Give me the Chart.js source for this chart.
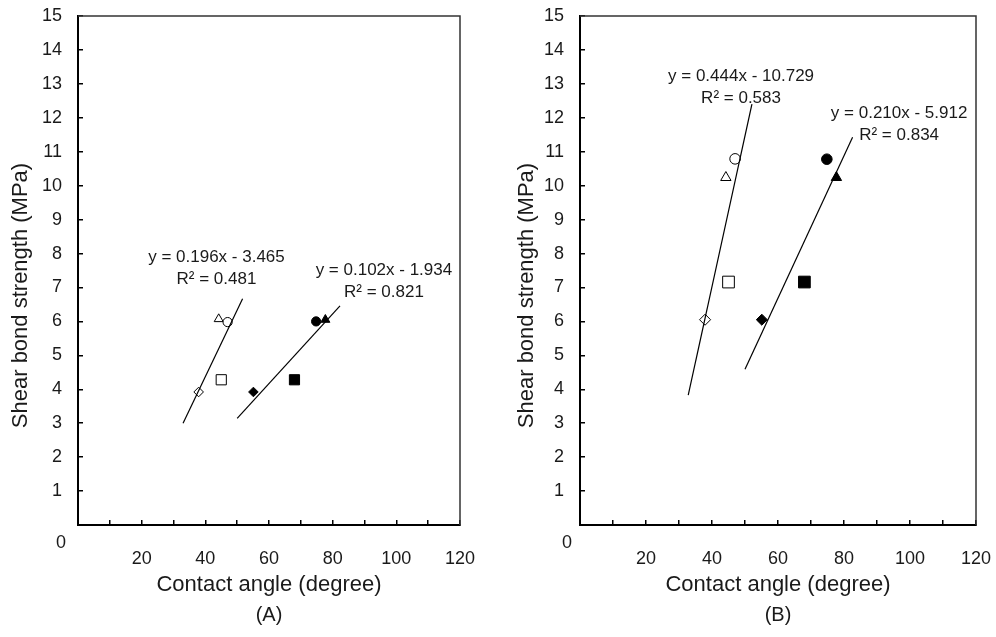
<!DOCTYPE html>
<html>
<head>
<meta charset="utf-8">
<script src="https://cdn.jsdelivr.net/npm/chart.js@4.4.0/dist/chart.umd.min.js"></script>
<style>
  html, body { margin: 0; padding: 0; background: #fff; }
  .panel { position: absolute; top: 0; width: 498px; height: 637px; }
</style>
</head>
<body>
<div class="panel" style="left:0"><canvas id="chartA" width="498" height="637"></canvas></div>
<div class="panel" style="left:498px"><canvas id="chartB" width="498" height="637"></canvas></div>
<script>
// contact angle (degree) - same specimens in both panels
var openAngle   = [37.9, 45.0, 44.2, 47.0];   // diamond, square, triangle, circle
var filledAngle = [55.1, 68.0, 74.8, 77.7];   // diamond, square, circle, triangle
var openMarkers   = ['rectRot', 'rect', 'triangle', 'circle'];
var filledMarkers = ['rectRot', 'rect', 'circle', 'triangle'];

// shear bond strength (MPa)
var openStrengthA   = [3.92, 4.28, 6.07, 5.98];
var filledStrengthA = [3.92, 4.28, 6.00, 6.05];
var openStrengthB   = [6.05, 7.16, 10.24, 10.79];
var filledStrengthB = [6.05, 7.16, 10.78, 10.24];

// trend line ends [x, y]
var trendOpenA   = [[33.0, 3.00], [51.7, 6.67]];
var trendFilledA = [[50.0, 3.14], [82.3, 6.46]];
var trendOpenB   = [[32.8, 3.83], [52.1, 12.40]];
var trendFilledB = [[50.0, 4.59], [82.6, 11.43]];

// regression labels
var eqOpenA   = ['y = 0.196x - 3.465', 'R² = 0.481'];
var eqFilledA = ['y = 0.102x - 1.934', 'R² = 0.821'];
var eqOpenB   = ['y = 0.444x - 10.729', 'R² = 0.583'];
var eqFilledB = ['y = 0.210x - 5.912', 'R² = 0.834'];

var xTicks = [20, 40, 60, 80, 100, 120];

var FONT = "'Liberation Sans', Arial, sans-serif";
var INK = '#1a1a1a';

function toPoints(xs, ys) {
    return xs.map(function (x, i) { return { x: x, y: ys[i] }; });
}
function toLine(ends) {
    return ends.map(function (p) { return { x: p[0], y: p[1] }; });
}
function radii(markers, size) {
    var base = { rectRot: 4.8, rect: 7.2, triangle: 5.2, circle: 4.6 };
    return markers.map(function (m) { return base[m] * size; });
}

// frame, corner "0", rotated y title and regression labels
var extras = {
    id: 'extras',
    afterDatasetsDraw: function (chart, args, opts) {
        var ctx = chart.ctx, a = chart.chartArea;
        var xs = chart.scales.x, ys = chart.scales.y;
        ctx.save();
        ctx.strokeStyle = '#333';
        ctx.lineWidth = 1.5;
        ctx.beginPath();
        ctx.moveTo(a.left, a.top);
        ctx.lineTo(a.right, a.top);
        ctx.lineTo(a.right, a.bottom);
        ctx.stroke();

        ctx.fillStyle = INK;
        ctx.textAlign = 'center';
        ctx.textBaseline = 'middle';
        ctx.font = '18px ' + FONT;
        ctx.fillText('0', a.left - opts.zeroDx, a.bottom + 18);

        ctx.save();
        ctx.translate(opts.titleX, (a.top + a.bottom) / 2 + 25);
        ctx.rotate(-Math.PI / 2);
        ctx.font = '22px ' + FONT;
        ctx.fillText('Shear bond strength (MPa)', 0, 0);
        ctx.restore();

        ctx.font = '17px ' + FONT;
        opts.labels.forEach(function (l) {
            var px = xs.getPixelForValue(l.x);
            ctx.fillText(l.text[0], px, ys.getPixelForValue(l.y));
            ctx.fillText(l.text[1], px, ys.getPixelForValue(l.y) + 22);
        });
        ctx.restore();
    }
};

function makeChart(id, cfg) {
    var ctx = document.getElementById(id);
    if (!ctx) {
        console.error("Canvas element with ID '" + id + "' not found.");
        return;
    }
    return new Chart(ctx, {
        type: 'scatter',
        data: {
            datasets: [
                { data: toLine(cfg.trendOpen), showLine: true, pointRadius: 0, borderColor: '#000', borderWidth: 1.2 },
                { data: toLine(cfg.trendFilled), showLine: true, pointRadius: 0, borderColor: '#000', borderWidth: 1.2 },
                {
                    data: toPoints(openAngle, cfg.open),
                    pointStyle: openMarkers,
                    pointRadius: radii(openMarkers, cfg.size),
                    backgroundColor: '#fff',
                    borderColor: '#000',
                    borderWidth: 1
                },
                {
                    data: toPoints(filledAngle, cfg.filled),
                    pointStyle: filledMarkers,
                    pointRadius: radii(filledMarkers, cfg.size),
                    backgroundColor: '#000',
                    borderColor: '#000',
                    borderWidth: 1
                }
            ]
        },
        options: {
            responsive: false,
            animation: false,
            layout: { padding: { left: 0, right: cfg.padRight, top: 16, bottom: 0 } },
            scales: {
                x: {
                    min: 0, max: 120,
                    afterFit: function (s) { s.height = 78; s.paddingLeft = 0; s.paddingRight = 0; },
                    border: { color: '#000', width: 2 },
                    grid: { drawOnChartArea: false, tickLength: -5, color: '#000', lineWidth: 1.5 },
                    ticks: {
                        stepSize: 10, autoSkip: false, maxRotation: 0, padding: 28,
                        color: INK, font: { family: FONT, size: 18 },
                        callback: function (v) { return xTicks.indexOf(v) >= 0 ? String(v) : ''; }
                    },
                    title: {
                        display: true, text: 'Contact angle (degree)', color: INK,
                        font: { family: FONT, size: 22 }, padding: { top: 0, bottom: 5 }
                    }
                },
                y: {
                    min: 0, max: 15,
                    afterFit: function (s) { s.width = cfg.axisLeft; s.paddingTop = 0; s.paddingBottom = 0; },
                    border: { color: '#000', width: 2 },
                    grid: { drawOnChartArea: false, tickLength: -5, color: '#000', lineWidth: 1.5 },
                    ticks: {
                        stepSize: 1, padding: 21, color: INK, font: { family: FONT, size: 18 },
                        callback: function (v) { return v === 0 ? '' : String(v); }
                    }
                }
            },
            plugins: {
                legend: { display: false },
                tooltip: { enabled: false },
                title: {
                    display: true, position: 'bottom', fullSize: false, text: cfg.caption,
                    color: INK, font: { family: FONT, size: 20, weight: 'normal' },
                    padding: { top: 0, bottom: 10 }
                },
                extras: { zeroDx: cfg.zeroDx, titleX: cfg.titleX, labels: cfg.labels }
            }
        },
        plugins: [extras]
    });
}

makeChart('chartA', {
    trendOpen: trendOpenA, trendFilled: trendFilledA,
    open: openStrengthA, filled: filledStrengthA,
    size: 1, padRight: 38, axisLeft: 78, zeroDx: 17, titleX: 21, caption: '(A)',
    labels: [
        { x: 43.5, y: 7.9, text: eqOpenA },
        { x: 96.1, y: 7.52, text: eqFilledA }
    ]
});

makeChart('chartB', {
    trendOpen: trendOpenB, trendFilled: trendFilledB,
    open: openStrengthB, filled: filledStrengthB,
    size: 1.15, padRight: 20, axisLeft: 82, zeroDx: 13, titleX: 29, caption: '(B)',
    labels: [
        { x: 48.8, y: 13.23, text: eqOpenB },
        { x: 96.7, y: 12.14, text: eqFilledB }
    ]
});
</script>
</body>
</html>
